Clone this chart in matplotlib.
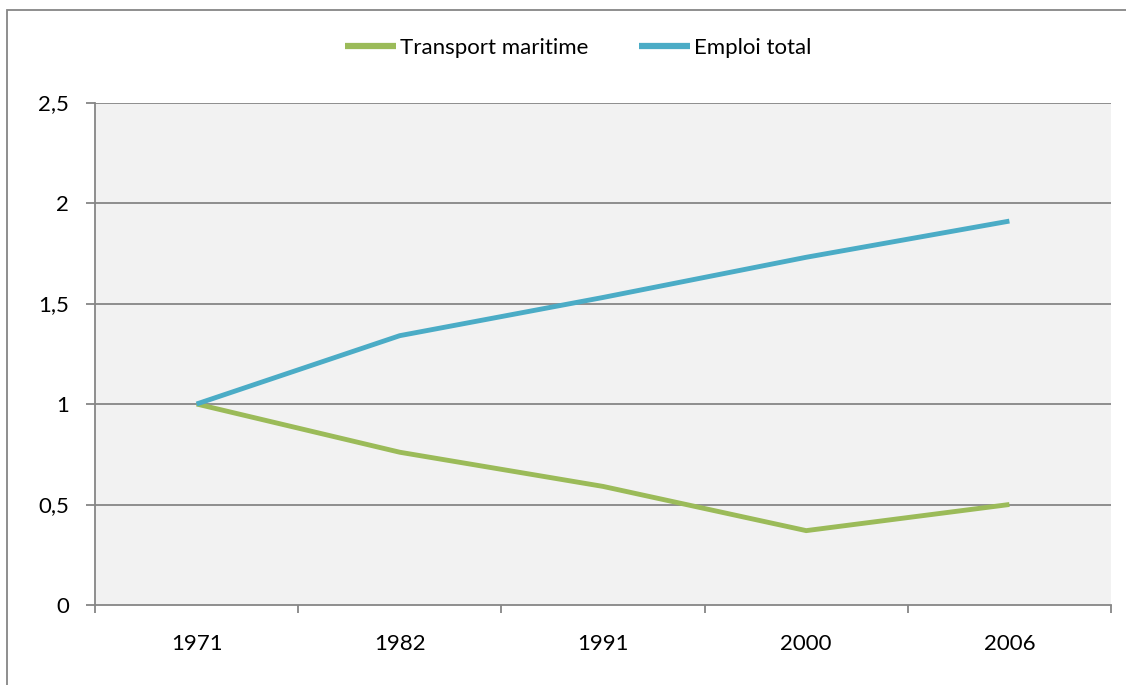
import matplotlib
matplotlib.use("Agg")
import matplotlib.pyplot as plt
from matplotlib.patches import Rectangle
from matplotlib.ticker import FixedLocator, NullFormatter, FixedFormatter

plt.rcParams['font.family'] = ['Lato', 'DejaVu Sans']

years = ["1971", "1982", "1991", "2000", "2006"]
transport_maritime = [1.0, 0.76, 0.59, 0.37, 0.50]
emploi_total = [1.0, 1.34, 1.53, 1.73, 1.91]
y_ticks = [0, 0.5, 1, 1.5, 2, 2.5]
y_labels = ["0", "0,5", "1", "1,5", "2", "2,5"]

W, H = 1126, 685
DPI = 100
fig = plt.figure(figsize=(W / DPI, H / DPI), dpi=DPI)

# plot area in pixel units
left, right, top, bottom = 95, 1111, 102.5, 605
ax = fig.add_axes([left / W, 1 - bottom / H, (right - left) / W, (bottom - top) / H])

grid_col = "#868686"
ax.set_facecolor("#F2F2F2")
fs = 16

x = list(range(len(years)))
ax.plot(x, transport_maritime, color="#9BBB59", lw=3.5, label="Transport maritime",
        solid_joinstyle="miter", solid_capstyle="butt", zorder=3)
ax.plot(x, emploi_total, color="#4BACC6", lw=3.5, label="Emploi total",
        solid_joinstyle="miter", solid_capstyle="butt", zorder=3)

ax.set_xlim(-0.5, len(years) - 0.5)
ax.set_ylim(0, 2.5)

ax.yaxis.set_major_locator(FixedLocator(y_ticks))
ax.yaxis.set_major_formatter(FixedFormatter(y_labels))
for yv in y_ticks[1:]:
    ax.axhline(yv, color=grid_col, lw=1.3, zorder=1)

ax.xaxis.set_major_locator(FixedLocator([i - 0.5 for i in range(len(years) + 1)]))
ax.xaxis.set_major_formatter(NullFormatter())
ax.xaxis.set_minor_locator(FixedLocator(x))
ax.xaxis.set_minor_formatter(FixedFormatter(years))

for s in ["top", "right"]:
    ax.spines[s].set_visible(False)
for s in ["left", "bottom"]:
    ax.spines[s].set_color(grid_col)
    ax.spines[s].set_linewidth(1.3)

ax.tick_params(axis="y", which="major", direction="out", length=6.5, width=1.3,
               color=grid_col, pad=12, labelsize=fs, labelcolor="black")
ax.tick_params(axis="x", which="major", direction="out", length=6, width=1.3,
               color=grid_col)
ax.tick_params(axis="x", which="minor", length=0, pad=21, labelsize=fs,
               labelcolor="black")

leg = fig.legend(loc="center", bbox_to_anchor=(578 / W, 1 - 48 / H), ncol=2,
                 frameon=False, fontsize=fs, handlelength=2.3, handletextpad=0.15,
                 columnspacing=2.3)
for h in leg.get_lines():
    h.set_linewidth(4.5)

# chart frame
fig.patches.append(Rectangle((7.5 / W, -0.1), 1.2, 1 - 9.5 / H + 0.1,
                             transform=fig.transFigure, fill=False,
                             edgecolor=grid_col, lw=1.3))

fig.savefig("out.png", dpi=DPI)
